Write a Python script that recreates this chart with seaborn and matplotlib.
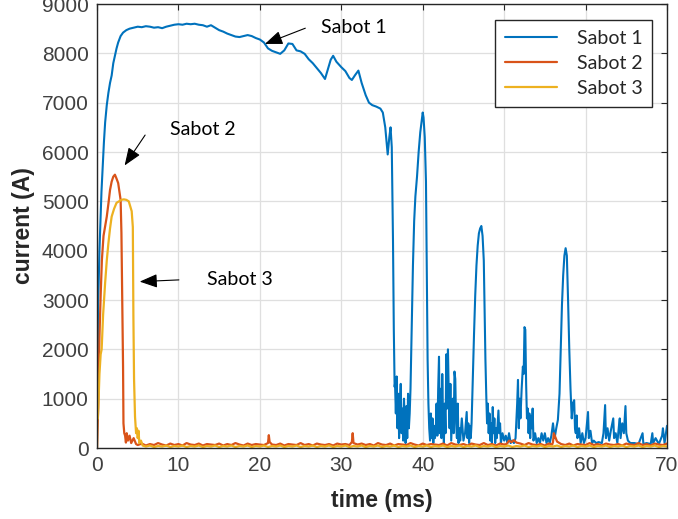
import numpy as np
import pandas as pd
import matplotlib
matplotlib.use("Agg")
import matplotlib.pyplot as plt
import seaborn as sns

# ---------------- data, (time ms, current A) ----------------
sabot1 = [
    (0, 1200), (0.05, 2800), (0.1, 1700), (0.15, 3000), (0.2, 3300), (0.3, 4000), (0.4, 4500), (0.55, 5200),
    (0.7, 5700), (0.85, 6200), (1.0, 6600), (1.2, 6950), (1.4, 7200), (1.6, 7400), (1.8, 7550), (2.0, 7800),
    (2.2, 7950), (2.4, 8100), (2.6, 8220), (2.9, 8350), (3.2, 8420), (3.6, 8470), (4.0, 8500), (4.5, 8520),
    (5.0, 8540), (5.5, 8530), (6.0, 8550), (6.5, 8540), (7.0, 8520), (7.5, 8530), (8.0, 8510), (8.5, 8540),
    (9.0, 8560), (9.5, 8580), (10, 8590), (10.5, 8580), (11, 8600), (11.5, 8590), (12, 8600), (12.5, 8580),
    (13, 8570), (13.5, 8540), (14, 8570), (14.5, 8520), (15, 8470), (15.5, 8440), (16, 8400), (16.5, 8370),
    (17, 8340), (17.5, 8330), (18, 8350), (18.5, 8370), (19, 8350), (19.5, 8310), (20, 8280), (20.5, 8220),
    (21, 8100), (21.5, 8050), (22, 8020), (22.5, 7990), (23, 8060), (23.5, 8200), (24, 8190), (24.5, 8060),
    (25, 8040), (25.5, 7990), (26, 7880), (26.5, 7800), (27, 7700), (27.5, 7600), (28, 7480), (28.3, 7650),
    (28.7, 7870), (29, 7950), (29.4, 7830), (30, 7720), (30.5, 7640), (31, 7500), (31.3, 7460), (31.7, 7560),
    (32.1, 7650), (32.5, 7400), (33, 7150), (33.4, 7000), (33.8, 6950), (34.3, 6920), (34.8, 6880),
    (35.1, 6800), (35.4, 6500), (35.7, 5950), (35.9, 6300), (36.05, 6500), (36.2, 6100), (36.35, 4200),
    (36.45, 2400), (36.55, 1240), (36.6, 1300), (36.7, 700), (36.8, 1450), (36.9, 400), (37.0, 1100),
    (37.1, 200), (37.2, 900), (37.3, 1300), (37.4, 300), (37.5, 800), (37.6, 150), (37.7, 1000), (37.8, 500),
    (37.9, 100), (38.0, 850), (38.1, 200), (38.2, 1100), (38.3, 400), (38.4, 700), (38.5, 1200), (38.65, 2500),
    (38.8, 3700), (38.95, 4600), (39.1, 5100), (39.3, 5500), (39.5, 6000), (39.7, 6400), (39.85, 6600),
    (40.0, 6800), (40.1, 6700), (40.25, 6300), (40.4, 5400), (40.5, 3500), (40.6, 1800), (40.7, 900),
    (40.8, 400), (40.9, 150), (41.0, 700), (41.1, 200), (41.2, 600), (41.3, 100), (41.4, 450), (41.5, 200),
    (41.6, 300), (41.7, 900), (41.8, 250), (41.9, 1200), (42.0, 1850), (42.1, 300), (42.2, 1200), (42.3, 200),
    (42.4, 1500), (42.5, 600), (42.6, 100), (42.7, 900), (42.8, 300), (42.9, 1900), (43.0, 800), (43.1, 2000),
    (43.2, 1100), (43.3, 400), (43.4, 1300), (43.5, 150), (43.6, 600), (43.7, 1000), (43.8, 300), (43.9, 1550),
    (44.0, 1400), (44.1, 500), (44.2, 200), (44.3, 900), (44.4, 100), (44.5, 400), (44.6, 150), (44.8, 600),
    (45.0, 150), (45.2, 300), (45.4, 730), (45.5, 200), (45.6, 500), (45.7, 100), (45.8, 450), (45.9, 200),
    (46.0, 500), (46.15, 1400), (46.3, 2300), (46.45, 3100), (46.6, 3700), (46.75, 4100), (46.9, 4350),
    (47.05, 4450), (47.2, 4500), (47.35, 4300), (47.5, 3800), (47.6, 2800), (47.7, 1800), (47.8, 1100),
    (47.9, 500), (48.0, 900), (48.1, 300), (48.2, 700), (48.3, 150), (48.4, 500), (48.5, 100), (48.6, 830),
    (48.7, 300), (48.8, 600), (48.9, 100), (49.0, 400), (49.1, 200), (49.3, 760), (49.4, 300), (49.5, 500),
    (49.6, 100), (49.8, 300), (50.0, 150), (50.2, 250), (50.4, 100), (50.6, 300), (50.8, 100), (51.0, 150),
    (51.2, 100), (51.4, 200), (51.6, 900), (51.7, 1380), (51.8, 400), (51.9, 1000), (52.0, 600), (52.15, 1200),
    (52.3, 1650), (52.4, 1500), (52.5, 2450), (52.6, 2400), (52.7, 1300), (52.8, 600), (52.9, 800), (53.0, 300),
    (53.1, 700), (53.2, 200), (53.3, 650), (53.4, 400), (53.5, 800), (53.6, 150), (53.8, 300), (54.0, 100),
    (54.2, 200), (54.4, 100), (54.6, 300), (54.8, 150), (55.0, 300), (55.2, 100), (55.4, 200), (55.6, 100),
    (55.8, 250), (56.0, 500), (56.2, 200), (56.4, 400), (56.6, 570), (56.8, 1100), (56.95, 2000), (57.1, 2900),
    (57.25, 3500), (57.4, 3900), (57.55, 4050), (57.7, 3900), (57.85, 3000), (58.0, 2000), (58.15, 1200),
    (58.3, 600), (58.45, 910), (58.6, 970), (58.7, 400), (58.8, 300), (58.9, 660), (59.0, 200), (59.2, 400),
    (59.4, 100), (59.6, 300), (59.8, 100), (60.0, 200), (60.3, 730), (60.4, 200), (60.6, 350), (60.8, 100),
    (61.0, 150), (61.3, 100), (61.6, 120), (62.0, 100), (62.2, 300), (62.4, 870), (62.5, 200), (62.7, 400),
    (62.9, 150), (63.1, 350), (63.4, 600), (63.5, 200), (63.7, 300), (63.9, 100), (64.1, 450), (64.2, 600),
    (64.3, 200), (64.5, 500), (64.7, 300), (64.9, 850), (65.0, 300), (65.2, 150), (65.5, 100), (66.0, 100),
    (66.5, 80), (67.0, 300), (67.1, 80), (67.5, 100), (68.0, 80), (68.2, 300), (68.3, 100), (68.6, 200),
    (69.0, 80), (69.4, 250), (69.5, 400), (69.7, 100), (70.0, 450),
]

sabot2 = [
    (0, 0), (0.15, 830), (0.3, 2250), (0.45, 3100), (0.6, 3810), (0.8, 4300), (1.0, 4500), (1.2, 4690),
    (1.4, 4950), (1.6, 5230), (1.8, 5400), (2.0, 5500), (2.2, 5540), (2.4, 5460), (2.6, 5370), (2.8, 5150),
    (2.9, 5030), (3.0, 4360), (3.1, 3000), (3.2, 1640), (3.25, 500), (3.35, 300), (3.45, 250), (3.55, 110),
    (3.65, 300), (3.8, 150), (4.0, 250), (4.2, 100), (4.5, 200), (4.8, 80), (5.0, 60), (5.5, 90), (6.0, 50),
    (6.5, 80), (7.0, 60), (7.5, 100), (8.0, 70), (8.5, 50), (9.0, 90), (9.5, 60), (10.0, 80), (10.5, 50),
    (11.0, 100), (11.5, 70), (12.0, 60), (12.5, 90), (13.0, 50), (13.5, 80), (14.0, 70), (14.5, 60),
    (15.0, 90), (15.5, 50), (16.0, 80), (16.5, 60), (17.0, 100), (17.5, 70), (18.0, 50), (18.5, 90),
    (19.0, 60), (19.5, 80), (20.0, 70), (20.5, 60), (21.0, 100), (21.1, 260), (21.2, 120), (21.5, 70),
    (22.0, 60), (22.5, 90), (23.0, 50), (23.5, 80), (24.0, 70), (24.5, 60), (25.0, 100), (25.5, 60),
    (26.0, 80), (26.5, 50), (27.0, 90), (27.5, 70), (28.0, 60), (28.5, 80), (29.0, 50), (29.5, 90),
    (30.0, 70), (30.5, 80), (31.0, 60), (31.3, 120), (31.4, 300), (31.5, 100), (32.0, 70), (32.5, 90),
    (33.0, 60), (33.5, 80), (34.0, 50), (34.5, 100), (35.0, 70), (35.5, 60), (36.0, 90), (36.5, 50),
    (37.0, 80), (37.5, 70), (38.0, 60), (38.5, 100), (39.0, 70), (39.5, 50), (40.0, 90), (40.5, 60),
    (41.0, 80), (41.5, 70), (42.0, 60), (42.5, 90), (43.0, 50), (43.5, 100), (44.0, 70), (44.5, 60),
    (45.0, 80), (45.5, 50), (46.0, 90), (46.5, 70), (47.0, 60), (47.5, 100), (48.0, 60), (48.5, 80),
    (49.0, 50), (49.5, 90), (50.0, 70), (50.3, 80), (50.6, 150), (50.9, 120), (51.2, 160), (51.5, 110),
    (52.0, 90), (52.5, 60), (53.0, 100), (53.5, 70), (54.0, 60), (54.5, 80), (55.0, 50), (55.5, 90),
    (55.9, 70), (56.0, 120), (56.1, 300), (56.5, 130), (57.0, 80), (57.5, 60), (58.0, 90), (58.5, 50),
    (59.0, 80), (59.5, 70), (60.0, 60), (60.5, 100), (61.0, 60), (61.5, 80), (62.0, 50), (62.5, 90),
    (63.0, 70), (63.5, 60), (64.0, 80), (64.5, 50), (65.0, 90), (65.5, 70), (66.0, 60), (66.5, 100),
    (67.0, 60), (67.5, 80), (68.0, 50), (68.5, 90), (69.0, 70), (69.5, 60), (70.0, 90),
]

sabot3 = [
    (0, 0), (0.03, 900), (0.1, 600), (0.2, 1000), (0.3, 1500), (0.45, 1900), (0.57, 2000), (0.75, 2700),
    (1.0, 3350), (1.2, 3800), (1.4, 4150), (1.6, 4450), (1.8, 4690), (2.1, 4850), (2.4, 4970), (2.7, 5000),
    (3.0, 5030), (3.3, 5040), (3.6, 5030), (3.9, 5000), (4.1, 4890), (4.26, 4800), (4.4, 4480), (4.47, 2660),
    (4.55, 1400), (4.67, 630), (4.8, 300), (4.9, 400), (5.0, 200), (5.1, 350), (5.2, 100), (5.4, 150),
    (5.6, 50), (6.0, 30), (6.5, 50), (7.0, 20), (7.5, 40), (8.0, 30), (8.5, 50), (9.0, 20), (9.5, 40),
    (10.0, 30), (10.5, 50), (11.0, 20), (11.5, 40), (12.0, 30), (12.5, 50), (13.0, 20), (13.5, 40),
    (14.0, 30), (14.5, 50), (15.0, 20), (15.5, 40), (16.0, 30), (16.5, 50), (17.0, 20), (17.5, 40),
    (18.0, 30), (18.5, 50), (19.0, 20), (19.5, 40), (20.0, 30), (20.5, 50), (21.0, 20), (21.5, 40),
    (22.0, 30), (22.5, 50), (23.0, 20), (23.5, 40), (24.0, 30), (24.5, 50), (25.0, 20), (25.5, 40),
    (26.0, 30), (26.5, 50), (27.0, 20), (27.5, 40), (28.0, 30), (28.5, 50), (29.0, 20), (29.5, 40),
    (30.0, 30), (30.5, 50), (31.0, 20), (31.5, 40), (32.0, 30), (32.5, 50), (33.0, 20), (33.5, 40),
    (34.0, 30), (34.5, 50), (35.0, 20), (35.5, 40), (36.0, 30), (36.5, 50), (37.0, 20), (37.5, 40),
    (38.0, 30), (38.5, 50), (39.0, 20), (39.5, 40), (40.0, 30), (40.5, 50), (41.0, 20), (41.5, 40),
    (42.0, 30), (42.5, 50), (43.0, 20), (43.5, 40), (44.0, 30), (44.5, 50), (45.0, 20), (45.5, 40),
    (46.0, 30), (46.5, 50), (47.0, 20), (47.5, 40), (48.0, 30), (48.5, 50), (49.0, 20), (49.5, 40),
    (50.0, 30), (50.5, 50), (51.0, 20), (51.5, 40), (52.0, 30), (52.5, 50), (53.0, 20), (53.5, 40),
    (54.0, 30), (54.5, 50), (55.0, 20), (55.5, 40), (56.0, 30), (56.5, 50), (57.0, 20), (57.5, 40),
    (58.0, 30), (58.5, 50), (59.0, 20), (59.5, 40), (60.0, 30), (60.5, 50), (61.0, 20), (61.5, 40),
    (62.0, 30), (62.5, 50), (63.0, 20), (63.5, 40), (64.0, 30), (64.5, 50), (65.0, 20), (65.5, 40),
    (66.0, 30), (66.5, 50), (67.0, 20), (67.5, 40), (68.0, 30), (68.5, 50), (69.0, 20), (69.5, 40),
    (70.0, 30),
]

series_names = ["Sabot 1", "Sabot 2", "Sabot 3"]
colors = ["#0072BD", "#D95319", "#EDB120"]
x_ticks = [0, 10, 20, 30, 40, 50, 60, 70]
y_ticks = [0, 1000, 2000, 3000, 4000, 5000, 6000, 7000, 8000, 9000]

# annotations: (text, text position, arrow tail, arrow head) in data units
annotations = [
    ("Sabot 1", (27.5, 8520), (25.9, 8530), (20.3, 8170)),
    ("Sabot 2", (9.0, 6450), (6.1, 6390), (3.2, 5680)),
    ("Sabot 3", (13.5, 3410), (10.4, 3410), (4.9, 3370)),
]

# ---------------- plot ----------------
sns.set_theme(style="whitegrid")
plt.rcParams["font.family"] = ["Liberation Sans", "DejaVu Sans"]

fig = plt.figure(figsize=(6.78, 5.19), dpi=100)
ax = fig.add_axes([97 / 678, 71 / 519, 570 / 678, 444 / 519])

handles = []
for pts, name, c, lw in zip([sabot1, sabot2, sabot3], series_names, colors, [1.5, 1.6, 1.6]):
    df = pd.DataFrame(pts, columns=["t", "I"])
    sns.lineplot(data=df, x="t", y="I", ax=ax, color=c, lw=lw,
                 estimator=None, sort=False, label=name, legend=False)
    handles.append(ax.lines[-1])

ax.set_xlim(0, 70)
ax.set_ylim(0, 9000)
ax.set_xticks(x_ticks)
ax.set_yticks(y_ticks)
ax.set_facecolor("white")
ax.grid(True, color="#DFDFDF", lw=0.9)
for sp in ax.spines.values():
    sp.set_color("#262626")
    sp.set_linewidth(1.0)
ax.tick_params(direction="in", top=True, right=True, length=4, width=0.8,
               colors="#262626", labelsize=15, labelcolor="#404040", pad=6)

ax.set_xlabel("time (ms)", fontsize=16.5, fontweight="bold", color="#262626")
ax.set_ylabel("current (A)", fontsize=16.5, fontweight="bold", color="#262626")
ax.xaxis.set_label_coords(0.5, -0.093)
ax.yaxis.set_label_coords(-0.108, 0.5)

leg = ax.legend(handles=handles, labels=series_names, loc="upper right",
                bbox_to_anchor=(0.974, 0.964), prop={"family": "Lato", "size": 14},
                frameon=True, fancybox=False, framealpha=1, edgecolor="#262626",
                handlelength=2.7, handletextpad=1.0, borderpad=0.5, labelspacing=0.42,
                borderaxespad=0)
leg.get_frame().set_linewidth(1.0)

for text, tpos, tail, head in annotations:
    ax.text(tpos[0], tpos[1], text, fontsize=14, family="Lato", color="black",
            va="center", ha="left")
    ax.annotate("", xy=head, xytext=tail,
                arrowprops=dict(arrowstyle="-|>,head_length=0.9,head_width=0.35",
                                color="black", lw=0.8))

fig.savefig("out.png", dpi=100, facecolor="white")
